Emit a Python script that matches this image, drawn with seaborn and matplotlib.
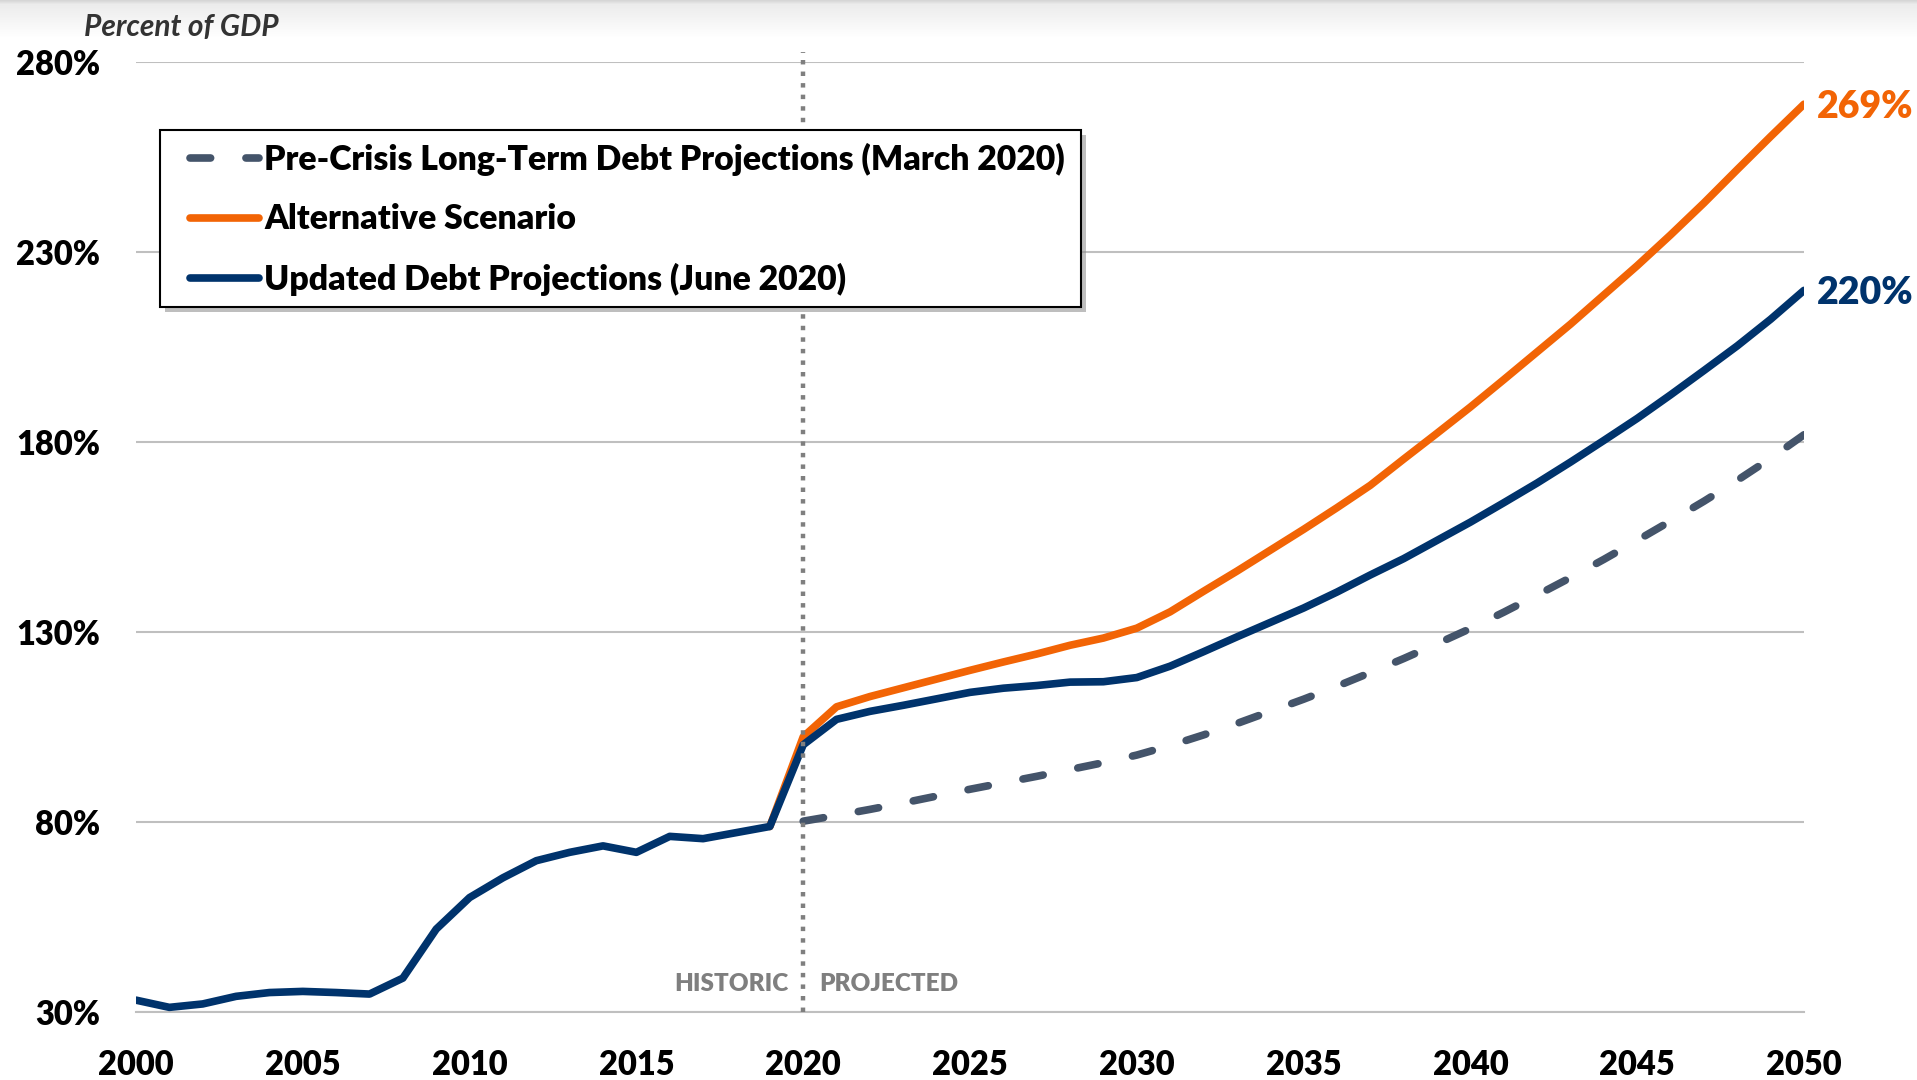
import matplotlib
matplotlib.use("Agg")
import matplotlib.pyplot as plt
from matplotlib.colors import LinearSegmentedColormap
from matplotlib.patches import Rectangle
import seaborn as sns
import numpy as np
import pandas as pd

# ---------------- data ----------------
years_hist = list(range(2000, 2020))
debt_hist = [33.2, 31.3, 32.2, 34.2, 35.2, 35.5, 35.2, 34.8, 39.0, 51.9,
             60.2, 65.4, 69.9, 72.1, 73.8, 72.1, 76.3, 75.7, 77.3, 78.9]

years_proj = list(range(2020, 2051))
updated_proj = [100.4, 107.1, 109.2, 110.8, 112.5, 114.2, 115.3, 116.0, 116.9, 117.0,
                118.1, 121.1, 124.9, 128.8, 132.6, 136.4, 140.6, 145.1, 149.4, 154.2,
                159.0, 164.1, 169.3, 174.8, 180.5, 186.3, 192.5, 198.9, 205.4, 212.4,
                220.0]
alternative_proj = [102.5, 110.4, 113.1, 115.4, 117.7, 120.0, 122.2, 124.3, 126.6, 128.5,
                    131.1, 135.4, 140.8, 146.1, 151.6, 157.1, 162.8, 168.7, 175.6, 182.4,
                    189.3, 196.5, 203.8, 211.1, 218.8, 226.5, 234.6, 243.0, 251.8, 260.5,
                    269.0]
precrisis_proj = [80.3, 81.8, 83.4, 85.1, 86.9, 88.7, 90.4, 92.1, 93.9, 95.7,
                  97.7, 100.2, 103.0, 106.0, 109.2, 112.4, 115.8, 119.4, 123.1, 127.0,
                  131.0, 135.3, 139.8, 144.4, 149.2, 154.2, 159.3, 164.5, 170.0, 175.8,
                  182.0]

labels = ["Pre-Crisis Long-Term Debt Projections (March 2020)",
          "Alternative Scenario",
          "Updated Debt Projections (June 2020)"]
y_ticks = [30, 80, 130, 180, 230, 280]
x_label_years = [2000, 2005, 2010, 2015, 2020, 2025, 2030, 2035, 2040, 2045, 2050]

C_BLUE = "#00336C"
C_ORANGE = "#F26405"
C_SLATE = "#44546A"
C_GRID = "#BFBFBF"
C_DOT = "#7F7F7F"
HEAVY = "heavy"

# ---------------- style ----------------
sns.set_theme(style="white")
plt.rcParams["font.family"] = ["Lato", "DejaVu Sans"]

W, H = 1917, 1080
DPI = 100
fig = plt.figure(figsize=(W / DPI, H / DPI), dpi=DPI)
fig.patch.set_facecolor("white")

# top gradient band
gax = fig.add_axes([0, 1 - 38 / H, 1, 38 / H])
grad = np.linspace(0, 1, 38)[:, None]
cmap = LinearSegmentedColormap.from_list("g", [(0, "#d6d6d6"), (0.1, "#ececec"), (1, "#ffffff")])
gax.imshow(grad, aspect="auto", cmap=cmap, extent=[0, 1, 0, 1])
gax.axis("off")

ax = fig.add_axes([136 / W, 1 - 1012.3 / H, (1804 - 136) / W, (1012.3 - 62.4) / H])
ax.set_facecolor("white")

# series
blue_years = years_hist + years_proj
blue_vals = debt_hist + updated_proj
orange_years = [years_hist[-1]] + years_proj
orange_vals = [debt_hist[-1]] + alternative_proj

lw = 5.5
sns.lineplot(x=years_proj, y=precrisis_proj, ax=ax, color=C_SLATE, linewidth=lw,
             linestyle=(0, (2.7, 4.8)), dash_capstyle="round", label=labels[0], zorder=3)
dash_line = ax.lines[-1]
sns.lineplot(x=orange_years, y=orange_vals, ax=ax, color=C_ORANGE, linewidth=lw,
             solid_capstyle="round", solid_joinstyle="round", label=labels[1], zorder=3)
sns.lineplot(x=blue_years, y=blue_vals, ax=ax, color=C_BLUE, linewidth=lw,
             solid_capstyle="round", solid_joinstyle="round", label=labels[2], zorder=3)
if ax.get_legend() is not None:
    ax.get_legend().remove()

# axes limits / grid
ax.set_xlim(2000, 2050)
ax.set_ylim(30, 280)
ax.set_xlabel("")
ax.set_ylabel("")
ax.set_yticks(y_ticks)
ax.set_yticklabels([f"{v}%" for v in y_ticks])
ax.set_xticks(list(range(2000, 2051)))
ax.set_xticklabels([str(y) if y in x_label_years else "" for y in range(2000, 2051)])
ax.yaxis.grid(True, color=C_GRID, linewidth=1.5)
ax.xaxis.grid(False)
ax.set_axisbelow(True)
for s in ["top", "right", "left"]:
    ax.spines[s].set_visible(False)
ax.spines["bottom"].set_color(C_GRID)
ax.spines["bottom"].set_linewidth(1.5)
ax.tick_params(axis="x", which="major", direction="out", length=8.5, width=1.0,
               color=C_GRID, pad=18, labelsize=23.5, labelcolor="black")
ax.tick_params(axis="y", which="major", length=0, pad=26, labelsize=23.5, labelcolor="black")
for t in ax.get_xticklabels() + ax.get_yticklabels():
    t.set_fontweight(HEAVY)

# make the dash pattern end on a dash at 2050 (as in the source chart)
pts = ax.transData.transform(np.column_stack([years_proj, precrisis_proj]))
L = np.sum(np.hypot(*np.diff(pts, axis=0).T))
lw_px = lw * DPI / 72
d_on = 2.7
n = int(round((L / lw_px - d_on) / (d_on + 4.8)))
d_off = (L / lw_px - d_on) / n - d_on
dash_line.set_linestyle((0, (d_on, d_off)))

# historic / projected divider
ax.axvline(2020, ymin=0, ymax=(282.8 - 30) / 250, color=C_DOT, linewidth=3.2,
           linestyle=(0, (1.0, 1.6)), dash_capstyle="butt", clip_on=False, zorder=4)
ax.text(2019.57, 37.4, "HISTORIC", ha="right", va="center", fontsize=17.5,
        fontweight=HEAVY, color=C_DOT)
ax.text(2020.48, 37.4, "PROJECTED", ha="left", va="center", fontsize=17.5,
        fontweight=HEAVY, color=C_DOT)

# end labels
ax.text(2050.38, alternative_proj[-1], f"{alternative_proj[-1]:.0f}%", ha="left",
        va="center_baseline", fontsize=27, fontweight=HEAVY, color=C_ORANGE, clip_on=False)
ax.text(2050.38, updated_proj[-1], f"{updated_proj[-1]:.0f}%", ha="left",
        va="center_baseline", fontsize=27, fontweight=HEAVY, color=C_BLUE, clip_on=False)

# y-axis unit title
fig.text(84 / W, 1 - 27 / H, "Percent of GDP", ha="left", va="center", fontsize=21.5,
         fontweight="bold", fontstyle="italic", color="#333333")

# legend frame (drawn manually) with shadow
bx0, by0, bx1, by1 = 160, 130, 1081, 307
shadow = Rectangle(((bx0 + 5) / W, (H - by1 - 5) / H), (bx1 - bx0) / W, (by1 - by0) / H,
                   transform=fig.transFigure, facecolor="#8a8a8a", edgecolor="none",
                   alpha=0.55, zorder=5.5)
frame = Rectangle((bx0 / W, (H - by1) / H), (bx1 - bx0) / W, (by1 - by0) / H,
                  transform=fig.transFigure, facecolor="white", edgecolor="black",
                  linewidth=1.5, zorder=5.6)
fig.add_artist(shadow)
fig.add_artist(frame)

handles, lbls = ax.get_legend_handles_labels()
leg = fig.legend(handles, lbls, loc="upper left",
                 bbox_to_anchor=(190 / W, 1 - 143 / H), bbox_transform=fig.transFigure,
                 borderaxespad=0, frameon=False, handlelength=2.05,
                 handletextpad=0.15, labelspacing=0.81, borderpad=0,
                 labelcolor="black", prop={"weight": HEAVY, "size": 24.3})
leg.set_zorder(6)
for line in leg.get_lines():
    line.set_linewidth(lw)

fig.savefig("out.png", dpi=DPI, facecolor="white")
